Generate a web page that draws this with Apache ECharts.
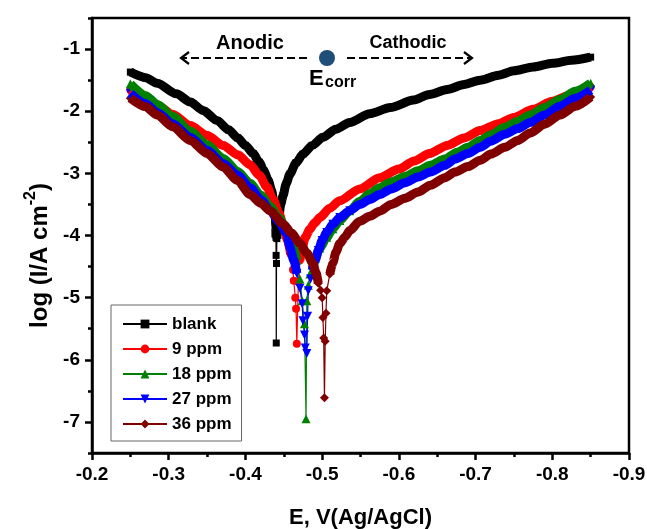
<!DOCTYPE html>
<html>
<head>
<meta charset="utf-8">
<script src="https://cdn.jsdelivr.net/npm/echarts@6/dist/echarts.min.js"></script>
<style>
  html, body { margin: 0; padding: 0; background: #ffffff; }
  #chart { width: 647px; height: 529px; }
</style>
</head>
<body>
<div id="chart"></div>
<script>
// Potentiodynamic polarization (Tafel) curves: [E vs Ag/AgCl (V), log(I / A cm^-2)]
const seriesNames = ['blank', '9 ppm', '18 ppm', '27 ppm', '36 ppm'];

const blank = [
  [-0.25, -1.37], [-0.27, -1.46], [-0.285, -1.55], [-0.31, -1.72], [-0.328, -1.85],
  [-0.345, -1.99], [-0.363, -2.15], [-0.378, -2.30], [-0.39, -2.43], [-0.40, -2.55],
  [-0.41, -2.68], [-0.418, -2.82], [-0.424, -2.96], [-0.43, -3.12], [-0.434, -3.27],
  [-0.437, -3.45], [-0.439, -3.65], [-0.4395, -3.85], [-0.4398, -4.03], [-0.44, -4.32],
  [-0.4402, -5.73], [-0.4405, -4.45], [-0.441, -4.05], [-0.443, -3.75], [-0.446, -3.50],
  [-0.449, -3.36], [-0.453, -3.17], [-0.458, -3.01], [-0.466, -2.83], [-0.475, -2.69],
  [-0.487, -2.55], [-0.501, -2.42], [-0.518, -2.29], [-0.536, -2.18], [-0.562, -2.04],
  [-0.589, -1.94], [-0.619, -1.82], [-0.64, -1.73], [-0.663, -1.65], [-0.685, -1.57],
  [-0.706, -1.50], [-0.73, -1.42], [-0.75, -1.35], [-0.775, -1.29], [-0.80, -1.23],
  [-0.825, -1.18], [-0.85, -1.13]
];

const ppm9 = [
  [-0.25, -1.66], [-0.27, -1.79], [-0.285, -1.90], [-0.305, -2.05], [-0.328, -2.23],
  [-0.35, -2.39], [-0.371, -2.55], [-0.39, -2.70], [-0.406, -2.86], [-0.418, -3.03],
  [-0.428, -3.22], [-0.436, -3.42], [-0.444, -3.65], [-0.45, -3.88], [-0.455, -4.08],
  [-0.459, -4.30], [-0.462, -4.55], [-0.463, -4.73], [-0.465, -5.00], [-0.466, -5.18],
  [-0.467, -5.74], [-0.469, -4.75], [-0.471, -4.40], [-0.474, -4.20], [-0.478, -4.03],
  [-0.484, -3.90], [-0.49, -3.80], [-0.497, -3.71], [-0.51, -3.56], [-0.523, -3.44],
  [-0.549, -3.25], [-0.575, -3.07], [-0.60, -2.93], [-0.62, -2.80], [-0.64, -2.68],
  [-0.663, -2.55], [-0.685, -2.43], [-0.706, -2.31], [-0.73, -2.20], [-0.75, -2.10],
  [-0.775, -1.97], [-0.80, -1.84], [-0.825, -1.73], [-0.85, -1.61]
];

const ppm18 = [
  [-0.25, -1.56], [-0.27, -1.75], [-0.285, -1.89], [-0.305, -2.08], [-0.328, -2.32],
  [-0.35, -2.54], [-0.371, -2.76], [-0.39, -2.97], [-0.406, -3.16], [-0.42, -3.35],
  [-0.432, -3.53], [-0.444, -3.72], [-0.454, -3.92], [-0.461, -4.15], [-0.467, -4.40],
  [-0.471, -4.70], [-0.474, -5.05], [-0.477, -5.42], [-0.479, -6.95], [-0.480, -5.05],
  [-0.482, -4.80], [-0.484, -4.62], [-0.488, -4.47], [-0.491, -4.37], [-0.497, -4.20],
  [-0.506, -4.03], [-0.514, -3.89], [-0.523, -3.76], [-0.536, -3.60], [-0.549, -3.45],
  [-0.562, -3.33], [-0.575, -3.23], [-0.59, -3.14], [-0.608, -3.05], [-0.625, -2.96],
  [-0.641, -2.87], [-0.66, -2.77], [-0.676, -2.66], [-0.69, -2.58], [-0.706, -2.47],
  [-0.72, -2.38], [-0.738, -2.26], [-0.755, -2.16], [-0.771, -2.06], [-0.79, -1.94],
  [-0.81, -1.81], [-0.83, -1.68], [-0.85, -1.55]
];

const ppm27 = [
  [-0.25, -1.71], [-0.27, -1.88], [-0.285, -2.02], [-0.305, -2.20], [-0.328, -2.42],
  [-0.35, -2.63], [-0.371, -2.84], [-0.39, -3.03], [-0.406, -3.23], [-0.42, -3.42],
  [-0.432, -3.60], [-0.444, -3.78], [-0.454, -3.97], [-0.458, -4.19], [-0.463, -4.40],
  [-0.467, -4.61], [-0.471, -4.85], [-0.474, -5.10], [-0.475, -5.37], [-0.477, -5.60],
  [-0.478, -5.81], [-0.480, -5.90], [-0.481, -5.30], [-0.482, -4.89], [-0.485, -4.70],
  [-0.487, -4.56], [-0.491, -4.40], [-0.495, -4.24], [-0.50, -4.08], [-0.506, -3.95],
  [-0.514, -3.82], [-0.523, -3.71], [-0.536, -3.60], [-0.549, -3.50], [-0.562, -3.42],
  [-0.575, -3.34], [-0.59, -3.25], [-0.608, -3.15], [-0.625, -3.06], [-0.641, -2.98],
  [-0.66, -2.87], [-0.673, -2.77], [-0.69, -2.68], [-0.706, -2.58], [-0.72, -2.48],
  [-0.738, -2.37], [-0.755, -2.28], [-0.771, -2.18], [-0.79, -2.06], [-0.81, -1.92],
  [-0.83, -1.79], [-0.85, -1.66]
];

const ppm36 = [
  [-0.25, -1.79], [-0.27, -1.93], [-0.285, -2.06], [-0.305, -2.25], [-0.328, -2.47],
  [-0.35, -2.68], [-0.371, -2.90], [-0.39, -3.12], [-0.406, -3.34], [-0.42, -3.48],
  [-0.432, -3.60], [-0.449, -3.81], [-0.46, -3.96], [-0.471, -4.13], [-0.48, -4.28],
  [-0.488, -4.45], [-0.492, -4.60], [-0.495, -4.77], [-0.498, -4.88], [-0.50, -5.00],
  [-0.501, -5.32], [-0.502, -5.65], [-0.503, -6.61], [-0.504, -5.70], [-0.505, -5.25],
  [-0.506, -4.89], [-0.51, -4.62], [-0.514, -4.44], [-0.518, -4.27], [-0.523, -4.13],
  [-0.53, -4.02], [-0.536, -3.92], [-0.549, -3.77], [-0.562, -3.69], [-0.575, -3.61],
  [-0.59, -3.50], [-0.608, -3.40], [-0.625, -3.30], [-0.641, -3.19], [-0.66, -3.07],
  [-0.673, -2.98], [-0.69, -2.89], [-0.706, -2.79], [-0.72, -2.69], [-0.738, -2.58],
  [-0.755, -2.47], [-0.771, -2.35], [-0.79, -2.21], [-0.81, -2.06], [-0.83, -1.92],
  [-0.85, -1.77]
];

const yMajorTicks = [-7, -6, -5, -4, -3, -2, -1];
const yMinorTicks = [-7.5, -6.5, -5.5, -4.5, -3.5, -2.5, -1.5, -0.5];

const FONT = '"Liberation Sans", Arial, Helvetica, sans-serif';

// Per-curve appearance; "floor" is where the thick Tafel band gives way to the
// thin line and separate markers around the corrosion potential dip.
const looks = [
  { color: '#000000', symbol: 'rect',     size: 7, rotate: 0,   floor: -4.1 },
  { color: '#ff0000', symbol: 'circle',   size: 8, rotate: 0,   floor: -4.45 },
  { color: '#008000', symbol: 'triangle', size: 9, rotate: 0,   floor: -4.55 },
  { color: '#0000ff', symbol: 'triangle', size: 9, rotate: 180, floor: -4.65 },
  { color: '#800000', symbol: 'diamond',  size: 9, rotate: 0,   floor: -4.85 }
];
const curves = [blank, ppm9, ppm18, ppm27, ppm36];

const series = [];
// thin connecting line with a marker at every point (these also feed the legend)
curves.forEach(function (d, i) {
  const lk = looks[i];
  series.push({
    name: seriesNames[i],
    type: 'line',
    data: d,
    z: 2,
    symbol: lk.symbol,
    symbolSize: lk.size,
    symbolRotate: lk.rotate,
    showAllSymbol: true,
    lineStyle: { color: lk.color, width: 1.2 },
    itemStyle: { color: lk.color },
    emphasis: { disabled: true }
  });
});
// thick bands for the anodic and cathodic branches, split at the current minimum
curves.forEach(function (d, i) {
  const lk = looks[i];
  let iMin = 0;
  d.forEach(function (p, k) { if (p[1] < d[iMin][1]) iMin = k; });
  const above = function (p) { return p[1] > lk.floor; };
  const parts = [d.slice(0, iMin).filter(above), d.slice(iMin + 1).filter(above)];
  parts.forEach(function (part, j) {
    series.push({
      name: seriesNames[i] + (j === 0 ? ' anodic' : ' cathodic'),
      type: 'line',
      data: part,
      z: 3,
      symbol: 'none',
      smooth: 0.25,
      smoothMonotone: 'x',
      lineStyle: { color: lk.color, width: 9, join: 'round' },
      emphasis: { disabled: true }
    });
  });
});

const boldText = { fontFamily: FONT, fontWeight: 'bold', color: '#000' };

const chart = echarts.init(document.getElementById('chart'), null, { renderer: 'canvas' });
chart.setOption({
  animation: false,
  backgroundColor: '#ffffff',
  grid: {
    left: 92, right: 18, top: 18, bottom: 76,
    containLabel: false,
    outerBoundsMode: 'none',
    show: true, borderColor: '#000', borderWidth: 2.5, backgroundColor: 'transparent'
  },
  legend: {
    data: seriesNames,
    orient: 'vertical',
    left: 111, top: 305,
    padding: [10, 10, 8, 11],
    itemWidth: 44, itemHeight: 11, itemGap: 7,
    backgroundColor: '#ffffff',
    borderColor: '#666666', borderWidth: 1, borderRadius: 0,
    selectedMode: false,
    textStyle: Object.assign({ fontSize: 17, lineHeight: 18 }, boldText)
  },
  xAxis: {
    type: 'value',
    min: -0.9, max: -0.2, interval: 0.1,
    inverse: true,
    position: 'bottom',
    axisLine: { show: true, onZero: false, lineStyle: { color: '#000', width: 2.5 } },
    axisTick: { show: true, length: 7, lineStyle: { color: '#000', width: 2.5 } },
    minorTick: { show: true, splitNumber: 2, length: 4, lineStyle: { color: '#000', width: 2.5 } },
    splitLine: { show: false },
    axisLabel: Object.assign({ fontSize: 19, margin: 12, formatter: function (v) { return v.toFixed(1); } }, boldText),
    name: 'E, V(Ag/AgCl)',
    nameLocation: 'middle',
    nameGap: 54,
    nameTextStyle: Object.assign({ fontSize: 22 }, boldText)
  },
  yAxis: [{
    type: 'value',
    min: -7.5, max: -0.5,
    position: 'left',
    axisLine: { show: true, onZero: false, lineStyle: { color: '#000', width: 2.5 } },
    axisTick: { show: true, length: 7, customValues: yMajorTicks, lineStyle: { color: '#000', width: 2.5 } },
    splitLine: { show: false },
    axisLabel: Object.assign({ fontSize: 19, margin: 12, customValues: yMajorTicks }, boldText),
    name: '{b|log (I/A cm}{sup|-2}{b|)}',
    nameLocation: 'middle',
    nameGap: 29,
    nameTextStyle: Object.assign({
      fontSize: 24,
      padding: [0, 40, 0, 0],
      rich: {
        b: { fontFamily: FONT, fontWeight: 'bold', fontSize: 24, lineHeight: 30, verticalAlign: 'bottom', color: '#000' },
        sup: { fontFamily: FONT, fontWeight: 'bold', fontSize: 16, lineHeight: 16, verticalAlign: 'top', color: '#000' }
      }
    }, boldText)
  }, {
    type: 'value',
    min: -7.5, max: -0.5,
    position: 'left',
    axisLine: { show: false },
    axisTick: { show: true, length: 4, customValues: yMinorTicks, lineStyle: { color: '#000', width: 2.5 } },
    axisLabel: { show: false },
    splitLine: { show: false }
  }],
  graphic: [
    { type: 'text', x: 250, y: 43, style: { text: 'Anodic', font: 'bold 20px ' + FONT, fill: '#000', align: 'center', verticalAlign: 'middle' } },
    { type: 'text', x: 408, y: 43, style: { text: 'Cathodic', font: 'bold 18px ' + FONT, fill: '#000', align: 'center', verticalAlign: 'middle' } },
    { type: 'line', shape: { x1: 307, y1: 58, x2: 183, y2: 58 }, style: { stroke: '#000', lineWidth: 2, lineDash: [8, 4] } },
    { type: 'polyline', shape: { points: [[189, 52], [181, 58], [189, 64]] }, style: { stroke: '#000', lineWidth: 2.2, fill: null } },
    { type: 'line', shape: { x1: 347, y1: 58, x2: 470, y2: 58 }, style: { stroke: '#000', lineWidth: 2, lineDash: [8, 4] } },
    { type: 'polyline', shape: { points: [[464, 52], [472, 58], [464, 64]] }, style: { stroke: '#000', lineWidth: 2.2, fill: null } },
    { type: 'circle', shape: { cx: 327, cy: 58, r: 8 }, style: { fill: '#1f4e79' } },
    { type: 'text', x: 309, y: 79, style: { text: 'E', font: 'bold 22px ' + FONT, fill: '#000', align: 'left', verticalAlign: 'middle' } },
    { type: 'text', x: 325, y: 83, style: { text: 'corr', font: 'bold 16px ' + FONT, fill: '#000', align: 'left', verticalAlign: 'middle' } }
  ],
  series: series
});
</script>
</body>
</html>
